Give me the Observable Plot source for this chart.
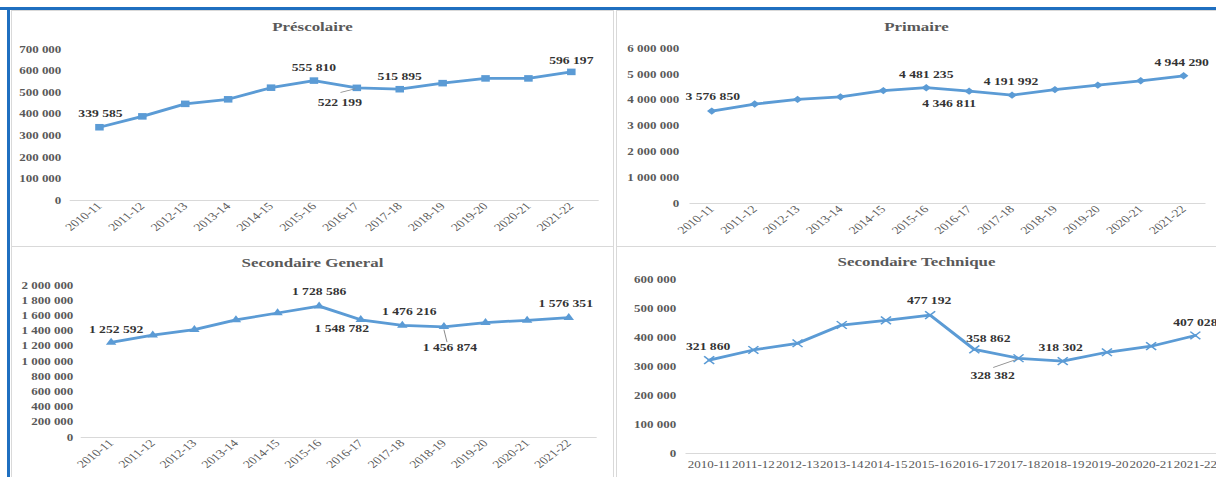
<!DOCTYPE html>
<html><head><meta charset="utf-8">
<script src="https://cdn.jsdelivr.net/npm/d3@7"></script>
<script src="https://cdn.jsdelivr.net/npm/@observablehq/plot@0.6"></script>
<style>
html,body{margin:0;padding:0;background:#fff;width:1216px;height:477px;overflow:hidden;}
#page{position:relative;width:1216px;height:477px;overflow:hidden;background:#fff;}
.frame{position:absolute;border:1px solid #d9d9d9;box-sizing:border-box;}
.blue{position:absolute;background:#1f6fc0;}
#stretch{position:absolute;left:0;top:0;width:936px;height:477px;transform:scaleX(1.3);transform-origin:0 0;}
.plotbox{position:absolute;}
.title{position:absolute;text-align:center;font:bold 13px "Liberation Serif",serif;color:#595959;height:16px;line-height:16px;white-space:nowrap;}
</style></head>
<body><div id="page"><div id="stretch"></div></div>
<script>
// ---- data ----
const years = ["2010-11","2011-12","2012-13","2013-14","2014-15","2015-16","2016-17","2017-18","2018-19","2019-20","2020-21","2021-22"];
const titles = ["Préscolaire","Primaire","Secondaire General","Secondaire Technique"];
const prescolaire = [339585, 390000, 448000, 469000, 523000, 555810, 522199, 515895, 544000, 566000, 566000, 596197];
const primaire = [3576850, 3850000, 4030000, 4130000, 4370000, 4481235, 4346811, 4191992, 4410000, 4580000, 4750000, 4944290];
const secondaireGeneral = [1252592, 1346000, 1420000, 1547000, 1638000, 1728586, 1548782, 1476216, 1456874, 1512000, 1542000, 1576351];
const secondaireTechnique = [321860, 357000, 380000, 443000, 459000, 477192, 358862, 328382, 318302, 349000, 370000, 407028];
const ticksPrescolaire = [0,100000,200000,300000,400000,500000,600000,700000];
const ticksPrimaire = [0,1000000,2000000,3000000,4000000,5000000,6000000];
const ticksGeneral = [0,200000,400000,600000,800000,1000000,1200000,1400000,1600000,1800000,2000000];
const ticksTechnique = [0,100000,200000,300000,400000,500000,600000];

// ---- layout (final pixel coordinates) ----
const S = 1.3; // horizontal stretch of the reference
const fmt = d3.formatLocale({thousands:" ", grouping:[3], decimal:","}).format(",d");
const page = document.getElementById("page");
const stretch = document.getElementById("stretch");

function box(cls, l, t, w, h){ const d=document.createElement("div"); d.className=cls; Object.assign(d.style,{left:l+"px",top:t+"px",width:w+"px",height:h+"px"}); page.appendChild(d); }
box("frame", 11, 10, 603, 237);
box("frame", 616, 10, 610, 237);
box("frame", 11, 246, 603, 240);
box("frame", 616, 246, 610, 240);
box("blue", 0, 7, 1216, 3);
box("blue", 7, 7, 2.5, 470);

const panels = [
  {title:titles[0], values:prescolaire, ticks:ticksPrescolaire, left:12, top:11, w:601, h:235, ml:58, mr:14, mt:38, mb:46, tp:9, pad:0.5, ty:16, rotate:true, symbol:"square", r:3.7,
   labels:[{i:0,dx:1,dy:-14},{i:5,dx:0,dy:-13},{i:6,dx:-17,dy:15,leader:[-2,1,-16,4.5]},{i:7,dx:0,dy:-13},{i:11,dx:0,dy:-11}]},
  {title:titles[1], values:primaire, ticks:ticksPrimaire, left:617, top:11, w:599, h:235, ml:72, mr:11, mt:37, mb:43, tp:11, pad:0.47, ty:16, rotate:true, symbol:"diamond2", r:3.3,
   labels:[{i:0,dx:1,dy:-14},{i:5,dx:0,dy:-13},{i:6,dx:-20,dy:12},{i:7,dx:-1,dy:-14},{i:11,dx:-2,dy:-13}]},
  {title:titles[2], values:secondaireGeneral, ticks:ticksGeneral, left:12, top:247, w:601, h:230, ml:69, mr:16, mt:38, mb:40, tp:8, pad:0.55, ty:16, rotate:true, symbol:"triangle", r:3.0,
   labels:[{i:0,dx:5,dy:-13},{i:5,dx:0,dy:-14},{i:6,dx:-19,dy:9},{i:7,dx:7,dy:-14},{i:8,dx:6,dy:21,leader:[0,3,3,15]},{i:11,dx:-3,dy:-14}]},
  {title:titles[3], values:secondaireTechnique, ticks:ticksTechnique, left:617, top:247, w:599, h:230, ml:68, mr:0, mt:32, mb:24, tp:10, pad:0.5, ty:15, rotate:false, symbol:"times", r:3.6,
   labels:[{i:0,dx:-1,dy:-14},{i:5,dx:-1,dy:-14},{i:6,dx:14,dy:-11},{i:7,dx:-26,dy:17,leader:[-2,1,-25,9]},{i:8,dx:-2,dy:-14},{i:11,dx:0,dy:-13}]}
];

const lineColor = "#5b9bd5";
for (const p of panels) {
  const rows = years.map((year, i) => ({year, value: p.values[i]}));
  const strokeSym = p.symbol === "times";
  const marks = [
    Plot.ruleY([0], {stroke:"#d9d9d9", strokeWidth:1}),
    Plot.axisY({ticks:p.ticks, tickFormat:fmt, tickSize:0, tickPadding:p.tp/S, fontWeight:"bold", fontSize:10, label:null}),
    p.rotate
      ? Plot.axisX({tickRotate:-45, tickSize:0, tickPadding:4, fontSize:10.5, label:null})
      : Plot.axisX({tickSize:0, tickPadding:7, fontSize:10, label:null}),
    Plot.line(rows, {x:"year", y:"value", stroke:lineColor, strokeWidth:2.75}),
    strokeSym
      ? Plot.dot(rows, {x:"year", y:"value", symbol:p.symbol, r:p.r, stroke:lineColor, strokeWidth:1.3, fill:"none"})
      : Plot.dot(rows, {x:"year", y:"value", symbol:p.symbol, r:p.r, fill:lineColor, stroke:"none"})
  ];
  for (const lab of p.labels) {
    const d = [rows[lab.i]];
    if (lab.leader) {
      const [a,b,c,e] = lab.leader;
      marks.push(Plot.vector(d, {x:"year", y:"value", anchor:"start", stroke:"#8c8c8c", strokeWidth:0.8,
        shape:{draw(ctx){ ctx.moveTo(a/S, b); ctx.lineTo(c/S, e); }}}));
    }
    marks.push(Plot.text(d, {x:"year", y:"value", text:(r) => fmt(r.value), dx:lab.dx/S, dy:lab.dy, fontWeight:"bold", fontSize:10.5, fill:"#333333"}));
  }
  const chart = Plot.plot({
    width: p.w / S, height: p.h,
    marginLeft: p.ml / S, marginRight: p.mr / S, marginTop: p.mt, marginBottom: p.mb,
    x: {type:"point", domain:years, padding:p.pad},
    y: {domain:[0, p.ticks[p.ticks.length-1]]},
    style: {fontFamily:'"Liberation Serif", serif', color:"#595959", background:"transparent", overflow:"visible"},
    marks
  });
  const holder = document.createElement("div");
  holder.className = "plotbox";
  holder.style.left = (p.left / S) + "px";
  holder.style.top = p.top + "px";
  holder.appendChild(chart);
  stretch.appendChild(holder);
  const t = document.createElement("div");
  t.className = "title";
  t.textContent = p.title;
  t.style.left = (p.left / S) + "px";
  t.style.width = (p.w / S) + "px";
  t.style.top = (p.top + p.ty - 8) + "px";
  stretch.appendChild(t);
}
</script>
</body></html>
